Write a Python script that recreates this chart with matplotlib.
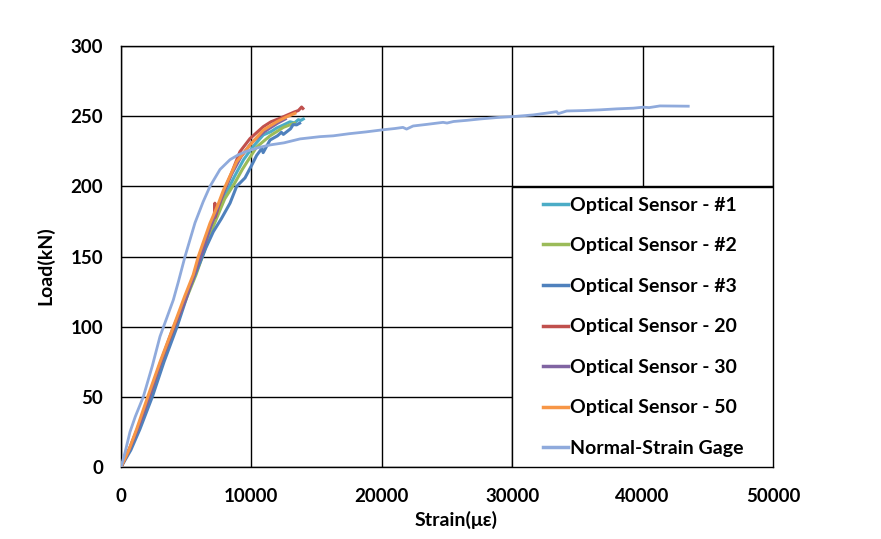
import matplotlib
matplotlib.use("Agg")
import matplotlib.pyplot as plt
from matplotlib.patches import Rectangle

plt.rcParams['font.family'] = ['Lato', 'DejaVu Sans']
plt.rcParams['font.weight'] = 'bold'

# Optical sensor #1
s1_strain = [0, 700, 1300, 2200, 3100, 4000, 5000, 5700, 6300, 7000, 7900, 8700, 9400,
             10100, 10910, 11500, 11940, 12400, 12960, 13300, 13600, 13800, 13980]
s1_load = [0, 13, 27, 50, 75, 98, 121, 137, 153, 171, 192, 207, 219,
           228, 236.6, 239, 241.6, 243.5, 246, 245.2, 247.5, 247, 248]

# Optical sensor #2
s2_strain = [0, 700, 1350, 2250, 3150, 4050, 5050, 5750, 6350, 7050, 7950, 8700, 9300,
             9640, 10400, 11430, 12450, 13000, 13300]
s2_load = [0, 13, 28, 50, 75, 98, 121, 137, 153, 171, 191, 202, 212,
           217, 228, 236, 242, 244, 245]

# Optical sensor #3
s3_strain = [0, 750, 1450, 2400, 3300, 4300, 5290, 5900, 6500, 7080, 7700, 8360, 8870,
             9510, 10020, 10400, 10800, 10900, 11430, 12000, 12300, 12450, 13000, 13200, 13470, 13700]
s3_load = [0, 12, 27, 50, 75, 100, 128, 142, 156, 167.7, 177, 188, 200,
           206, 215, 222, 227, 224, 233, 236, 238.5, 237, 241, 244, 243.8, 245]

# Optical sensor 20
s20_strain = [0, 700, 1300, 2200, 3100, 4000, 5000, 5600, 6200, 6800, 7150, 7200, 7230,
              7500, 8000, 8500, 9120, 9890, 10910, 11500, 12190, 12800, 13300, 13600, 13850, 13950]
s20_load = [0, 14, 28, 51, 76, 98, 121, 137, 153, 170, 178, 188, 178,
            186, 199, 210, 224.7, 234, 242.5, 246, 248.5, 251, 253, 254, 256.5, 255.5]

# Optical sensor 30
s30_strain = [0, 650, 1250, 2150, 3050, 3950, 5000, 5600, 6200, 6900, 7800, 8500, 9200,
              10000, 11000, 12000, 12600]
s30_load = [0, 13, 27, 50, 75, 98, 121, 137, 153, 172, 194, 209, 221,
            231, 239, 245, 248]

# Optical sensor 50
s50_strain = [0, 600, 1200, 2050, 3000, 3900, 4900, 5540, 5930, 6825, 7400, 7845, 8870,
              9890, 10910, 11940, 12700, 13340]
s50_load = [0, 12, 27, 50, 75, 97, 122, 137, 150, 173.7, 186, 197, 217.6,
            229.5, 240, 246, 249.5, 252]

# Normal strain gage
ng_strain = [0, 300, 690, 1100, 1710, 2400, 2990, 3500, 4010, 4400, 4910, 5675, 6300,
             6825, 7590, 8360, 9000, 9640, 10500, 11430, 12500, 13730, 15260, 16280,
             17500, 18800, 20000, 21000, 21620, 21900, 22400, 23500, 24700, 25000, 25500,
             26500, 27530, 28800, 30080, 31620, 32500, 33410, 33530, 34180, 35500, 36730,
             38000, 39290, 40050, 40500, 41330, 42500, 43500]
ng_load = [0, 10, 25, 36, 50, 72, 93, 106, 119, 132, 150, 174, 189,
           200, 212, 219, 222.5, 225, 227.5, 229.5, 231, 233.8, 235.4, 236,
           237.5, 238.8, 240.2, 241.2, 242, 240.8, 243, 244.2, 245.6, 245.1, 246.2,
           247, 248, 249, 249.7, 250.9, 252, 253.2, 251.8, 253.7, 254, 254.5,
           255.2, 255.7, 256.4, 256.1, 257.3, 257.2, 257.1]

series = [
    ("Optical Sensor - #1", s1_strain, s1_load, "#4BACC6"),
    ("Optical Sensor - #2", s2_strain, s2_load, "#9BBB59"),
    ("Optical Sensor - #3", s3_strain, s3_load, "#4F81BD"),
    ("Optical Sensor - 20", s20_strain, s20_load, "#C0504D"),
    ("Optical Sensor - 30", s30_strain, s30_load, "#8064A2"),
    ("Optical Sensor - 50", s50_strain, s50_load, "#F79646"),
    ("Normal-Strain Gage", ng_strain, ng_load, "#8FAADC"),
]

fig = plt.figure(figsize=(8.81, 5.39), dpi=100)
ax = fig.add_axes([121 / 881, 1 - 467 / 539, 652 / 881, 421 / 539])

for name, xs, ys, col in series:
    lw = 2.0 if name.startswith("Normal") else 2.2
    ax.plot(xs, ys, color=col, lw=lw, label=name, zorder=3)

ax.set_xlim(0, 50000)
ax.set_ylim(0, 300)
ax.set_xticks(range(0, 50001, 10000))
ax.set_yticks(range(0, 301, 50))
ax.grid(True, color="black", lw=1)
ax.set_axisbelow(True)
for sp in ax.spines.values():
    sp.set_color("black")
    sp.set_linewidth(1)
ax.tick_params(axis="both", length=0, labelsize=13.5)
ax.tick_params(axis="x", pad=15)
ax.tick_params(axis="y", pad=13)

# white legend box in the lower right of the plot
box = Rectangle((0.6, 0), 0.4, 280 / 421, transform=ax.transAxes,
                facecolor="white", edgecolor="black", lw=1, zorder=4)
ax.add_patch(box)
leg = ax.legend(loc="center left", bbox_to_anchor=(0.62, 0.333), frameon=False,
                fontsize=14, handlelength=1.3, handletextpad=0.1, labelspacing=1.21)
leg.set_zorder(5)
for h in leg.get_lines():
    h.set_linewidth(2.5)

fig.text(456 / 881, 1 - 520 / 539, "Strain(\u03bc\u03b5)", ha="center", va="center",
         fontsize=14, fontweight="bold")
fig.text(45 / 881, 1 - 266 / 539, "Load(kN)", ha="center", va="center",
         rotation=90, fontsize=14, fontweight="bold")

fig.savefig("out.png", dpi=100)
